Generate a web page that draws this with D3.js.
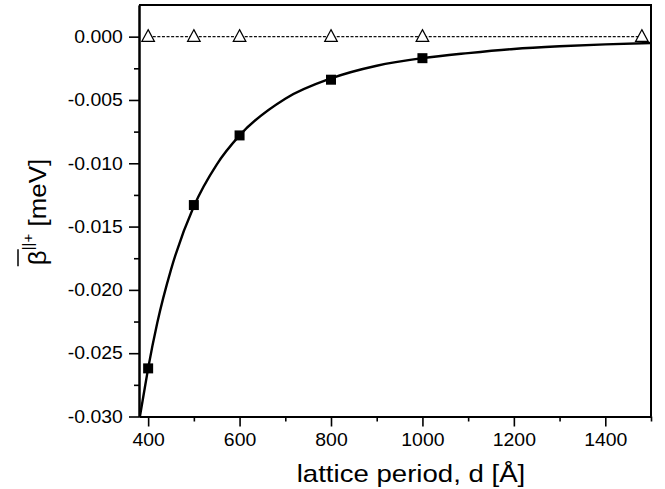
<!DOCTYPE html>
<html><head><meta charset="utf-8">
<script src="https://cdn.jsdelivr.net/npm/d3@7"></script>
<style>
html,body{margin:0;padding:0;background:#fff;}
text{font-family:"Liberation Sans",Arial,Helvetica,sans-serif;fill:#000;}
</style></head>
<body>
<svg id="c" width="665" height="489"></svg>
<script>
// ---- data ----
const squareD = [400, 500, 600, 800, 1000];
const squareB = [-0.0262, -0.0133, -0.0078, -0.0034, -0.0017];
const triD = [400, 500, 600, 800, 1000, 1480];
const triB = [0, 0, 0, 0, 0, 0];
// fitted solid curve
const curveD = [382, 390, 400, 420, 450, 500, 550, 600, 700, 800, 900, 1000, 1100, 1200, 1300, 1400, 1500];
const curveB = [-0.0300, -0.0283, -0.0262, -0.0226, -0.0184, -0.0134, -0.0101, -0.0078, -0.0049, -0.0033, -0.0023, -0.0017, -0.0013, -0.00097, -0.00076, -0.00061, -0.0005];
const xMajor = [400, 600, 800, 1000, 1200, 1400];
const xMajorLabels = ["400", "600", "800", "1000", "1200", "1400"];
const xMinor = [500, 700, 900, 1100, 1300, 1500];
const yMajor = [-0.030, -0.025, -0.020, -0.015, -0.010, -0.005, 0.000];
const yMajorLabels = ["-0.030", "-0.025", "-0.020", "-0.015", "-0.010", "-0.005", "0.000"];
const yMinor = [-0.0275, -0.0225, -0.0175, -0.0125, -0.0075, -0.0025];

const svg = d3.select("#c");
const L = 139, R = 651, T = 5, B = 416.5;
const x = d3.scaleLinear().domain([380, 1500]).range([L, R]);
const y = d3.scaleLinear().domain([-0.030, 0.0025]).range([B, T]);

svg.append("defs").append("clipPath").attr("id", "clip")
  .append("rect").attr("x", L).attr("y", T).attr("width", R - L).attr("height", B - T);

// minor ticks
const xMinAxis = d3.axisBottom(x).tickValues(xMinor).tickSize(5).tickSizeOuter(0).tickFormat("");
const yMinAxis = d3.axisLeft(y).tickValues(yMinor).tickSize(5).tickSizeOuter(0).tickFormat("");
svg.append("g").attr("transform", `translate(0,${B})`).call(xMinAxis);
svg.append("g").attr("transform", `translate(${L},0)`).call(yMinAxis);

// major axes
const xAxis = d3.axisBottom(x).tickValues(xMajor).tickSize(10).tickSizeOuter(0)
  .tickFormat((d, i) => xMajorLabels[i]);
const yAxis = d3.axisLeft(y).tickValues(yMajor).tickSize(10).tickSizeOuter(0)
  .tickFormat((d, i) => yMajorLabels[i]);
const gx = svg.append("g").attr("transform", `translate(0,${B})`).call(xAxis);
const gy = svg.append("g").attr("transform", `translate(${L},0)`).call(yAxis);

svg.selectAll(".tick line").attr("stroke", "#000").attr("stroke-width", 1.6);
svg.selectAll(".domain").attr("stroke", "#000").attr("stroke-width", 2);
[gx, gy].forEach(g => g.selectAll("text").attr("font-size", 18)
  .attr("font-family", '"Liberation Sans",Arial,sans-serif').attr("fill", "#000"));
gx.selectAll("text").attr("y", 17).attr("transform", "scale(1.08,1)");
gy.selectAll("text").attr("x", -15).attr("transform", "scale(1.08,1)");

// frame top & right
svg.append("line").attr("x1", L).attr("x2", R).attr("y1", T).attr("y2", T)
  .attr("stroke", "#000").attr("stroke-width", 2);
svg.append("line").attr("x1", R).attr("x2", R).attr("y1", T - 1).attr("y2", B)
  .attr("stroke", "#000").attr("stroke-width", 2);

const plot = svg.append("g").attr("clip-path", "url(#clip)");

// dashed line with triangles
const triData = triD.map((d, i) => [d, triB[i]]);
plot.append("path").datum(triData)
  .attr("d", d3.line().x(d => x(d[0])).y(d => y(d[1])))
  .attr("fill", "none").attr("stroke", "#111").attr("stroke-width", 1.2)
  .attr("stroke-dasharray", "3,1.6");

// solid curve
const curveData = curveD.map((d, i) => [d, curveB[i]]);
plot.append("path").datum(curveData)
  .attr("d", d3.line().curve(d3.curveMonotoneX).x(d => x(d[0])).y(d => y(d[1])))
  .attr("fill", "none").attr("stroke", "#000").attr("stroke-width", 2.4);

// triangles
svg.append("g").selectAll("path").data(triData).enter().append("path")
  .attr("transform", d => `translate(${x(d[0])},${y(d[1])})`)
  .attr("d", "M0,-7L6.3,4.8L-6.3,4.8Z")
  .attr("fill", "#fff").attr("stroke", "#000").attr("stroke-width", 1.2);

// squares
const sqData = squareD.map((d, i) => [d, squareB[i]]);
svg.append("g").selectAll("rect").data(sqData).enter().append("rect")
  .attr("x", d => x(d[0]) - 5).attr("y", d => y(d[1]) - 5)
  .attr("width", 10).attr("height", 10).attr("fill", "#000");

// x title
svg.append("g").attr("transform", "translate(411,482) scale(1.15,1)")
  .append("text").attr("text-anchor", "middle").attr("font-size", 24)
  .text("lattice period, d [Å]");

// y title
const yg = svg.append("g").attr("transform", "translate(46,212) rotate(-90) scale(1.08,1)");
const yt = yg.append("text").attr("text-anchor", "middle").attr("font-size", 24);
yt.append("tspan").text("β");
yt.append("tspan").attr("font-size", 14).attr("dy", -13).text("||+");
yt.append("tspan").attr("dy", 13).text(" [meV]");
const tnode = yt.node();
const s0 = tnode.getStartPositionOfChar(0).x;
const e0 = tnode.getEndPositionOfChar(0).x;
yg.append("line").attr("x1", s0 - 1).attr("x2", e0 + 1).attr("y1", -28).attr("y2", -28)
  .attr("stroke", "#000").attr("stroke-width", 1.5);
</script>
</body></html>
